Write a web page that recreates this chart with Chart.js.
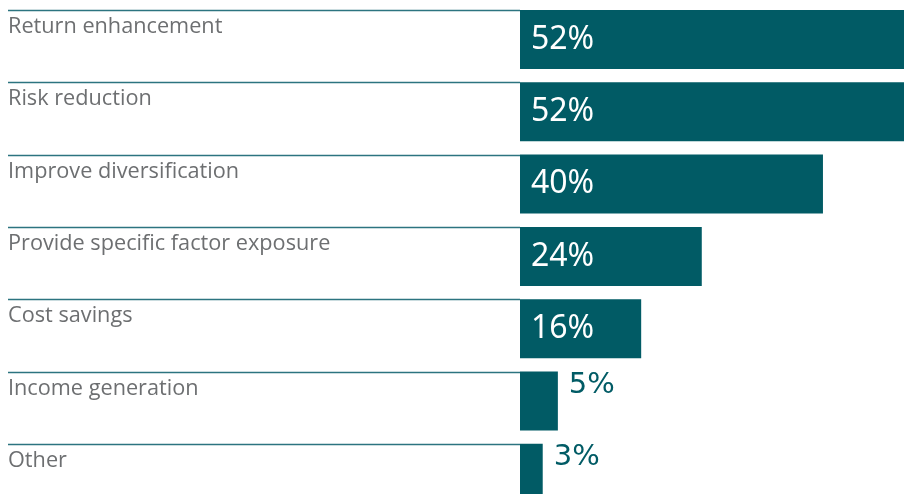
<!DOCTYPE html>
<html>
<head>
<meta charset="utf-8">
<script src="https://cdn.jsdelivr.net/npm/chart.js@4"></script>
<style>
html,body{margin:0;padding:0;background:#fff;overflow:hidden;}
#wrap{position:relative;width:904px;height:520px;}
</style>
</head>
<body>
<div id="wrap"><canvas id="c"></canvas></div>
<script>
const categories = ["Return enhancement","Risk reduction","Improve diversification","Provide specific factor exposure","Cost savings","Income generation","Other"];
const values = [52,52,40,24,16,5,3];
const valueLabels = ["52%","52%","40%","24%","16%","5%","3%"];
const xMax = 50.7;

const BAR = '#015b65';
const LINE = '#2c7480';
const GREY = '#6d6f71';

const labelPlugin = {
  id:'labels',
  beforeDatasetsDraw(chart){
    const ctx = chart.ctx;
    const meta = chart.getDatasetMeta(0);
    ctx.save();
    meta.data.forEach((el,i)=>{
      const top = Math.round(el.y - el.height/2);
      ctx.strokeStyle = LINE;
      ctx.lineWidth = 1.3;
      ctx.beginPath();
      ctx.moveTo(8, top+0.5);
      ctx.lineTo(el.base, top+0.5);
      ctx.stroke();
      ctx.fillStyle = GREY;
      ctx.font = '21.7px "Open Sans", sans-serif';
      ctx.textAlign = 'left';
      ctx.textBaseline = 'alphabetic';
      ctx.fillText(categories[i], 8, top+23);
    });
    ctx.restore();
  },
  afterDatasetsDraw(chart){
    const ctx = chart.ctx;
    const meta = chart.getDatasetMeta(0);
    ctx.save();
    ctx.textAlign = 'left';
    ctx.textBaseline = 'middle';
    meta.data.forEach((el,i)=>{
      const top = el.y - el.height/2;
      if (values[i] >= 10) {
        ctx.font = '32px "Noto Sans", sans-serif';
        ctx.fillStyle = '#ffffff';
        ctx.fillText(valueLabels[i], el.base + 11, el.y);
      } else {
        ctx.font = '29px "DejaVu Sans", sans-serif';
        ctx.fillStyle = BAR;
        ctx.fillText(valueLabels[i], el.x + 11, top + 14);
      }
    });
    ctx.restore();
  }
};

new Chart(document.getElementById('c'), {
  type:'bar',
  data:{labels:categories, datasets:[{data:values, backgroundColor:BAR, borderWidth:0, barPercentage:0.816, categoryPercentage:1}]},
  options:{
    indexAxis:'y',
    responsive:true, maintainAspectRatio:false, animation:false,
    layout:{padding:{left:520,right:0,top:3.35,bottom:10.5}},
    plugins:{legend:{display:false},tooltip:{enabled:false}},
    scales:{
      x:{display:false,min:0,max:xMax},
      y:{display:false,offset:true}
    }
  },
  plugins:[labelPlugin]
});
</script>
</body>
</html>
